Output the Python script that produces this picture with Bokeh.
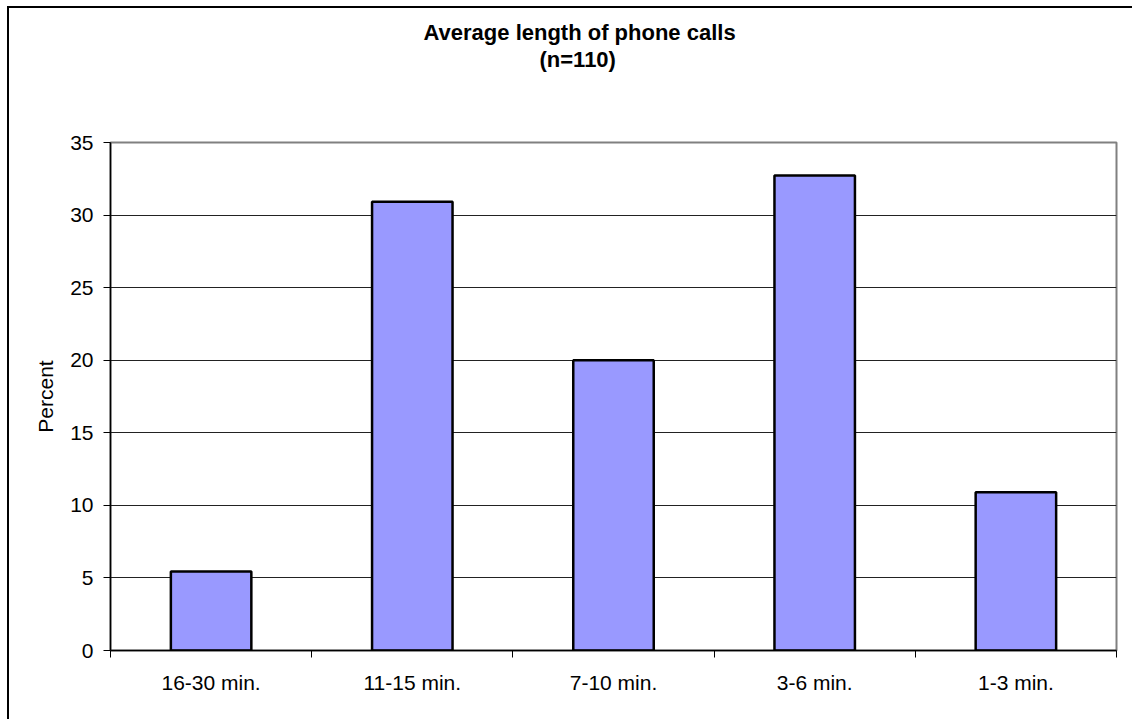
from bokeh.plotting import figure
from bokeh.models import Range1d, FixedTicker, Title
from bokeh.embed import file_html
from bokeh.resources import INLINE

categories = ["16-30 min.", "11-15 min.", "7-10 min.", "3-6 min.", "1-3 min."]
percent = [5.45, 30.91, 20.0, 32.73, 10.91]
y_ticks = [0, 5, 10, 15, 20, 25, 30, 35]
title_line1 = "Average length of phone calls"
title_line2 = "(n=110)"
y_label = "Percent"

FONT = "Liberation Sans"

p = figure(width=1132, height=719, output_backend="svg", toolbar_location=None,
           x_range=Range1d(0, len(categories)), y_range=Range1d(0, 35),
           min_border_left=110, min_border_right=16, min_border_top=142, min_border_bottom=69)

# title: empty spacer next to the frame, then the two title lines
p.title.text = title_line1
p.title.align = "left"
p.title.offset = 313
p.title.standoff = 0
p.title.text_font = FONT
p.title.text_font_size = "22px"
p.title.text_font_style = "bold"
p.title.text_color = "black"
p.add_layout(Title(text=" ", align="left", standoff=68, text_font=FONT,
                   text_font_size="1px", text_color="white"), "above")
p.add_layout(Title(text=title_line2, align="left", offset=429, standoff=0,
                   text_font=FONT, text_font_size="22px", text_font_style="bold",
                   text_color="black"), "above")

p.outline_line_color = "#808080"
p.outline_line_width = 2
p.background_fill_color = "white"
p.border_fill_color = None
p.styles = {
    "background": "linear-gradient(black, black) 7px 6px / 2px 900px no-repeat, "
                  "linear-gradient(black, black) 7px 6px / 1300px 2px no-repeat, white"
}

xs = [i + 0.5 for i in range(len(categories))]
p.vbar(x=xs, top=percent, width=0.4, bottom=0, fill_color="#9999FF",
       line_color="black", line_width=2.5)

# x axis
p.xaxis.ticker = FixedTicker(ticks=xs, minor_ticks=list(range(len(categories) + 1)))
p.xaxis.major_label_overrides = {x: c for x, c in zip(xs, categories)}
p.xaxis.major_tick_out = 0
p.xaxis.major_tick_in = 0
p.xaxis.minor_tick_out = 7
p.xaxis.minor_tick_in = 0
p.xaxis.minor_tick_line_color = "black"
p.xaxis.axis_line_color = "black"
p.xaxis.axis_line_width = 1.5
p.xaxis.major_label_text_font = FONT
p.xaxis.major_label_text_font_size = "21px"
p.xaxis.major_label_text_color = "black"
p.xaxis.major_label_standoff = 13
p.xgrid.visible = False

# y axis
p.yaxis.ticker = FixedTicker(ticks=y_ticks)
p.yaxis.major_tick_out = 7
p.yaxis.major_tick_in = 0
p.yaxis.minor_tick_line_color = None
p.yaxis.axis_line_color = "black"
p.yaxis.axis_line_width = 1.5
p.yaxis.major_label_text_font = FONT
p.yaxis.major_label_text_font_size = "21px"
p.yaxis.major_label_text_color = "black"
p.yaxis.major_label_standoff = 10
p.yaxis.axis_label = y_label
p.yaxis.axis_label_text_font = FONT
p.yaxis.axis_label_text_font_size = "21px"
p.yaxis.axis_label_text_font_style = "normal"
p.yaxis.axis_label_text_color = "black"
p.yaxis.axis_label_standoff = 10
p.ygrid.grid_line_color = "#222222"
p.ygrid.grid_line_width = 1

open("out.html", "w").write(file_html(p, INLINE))
